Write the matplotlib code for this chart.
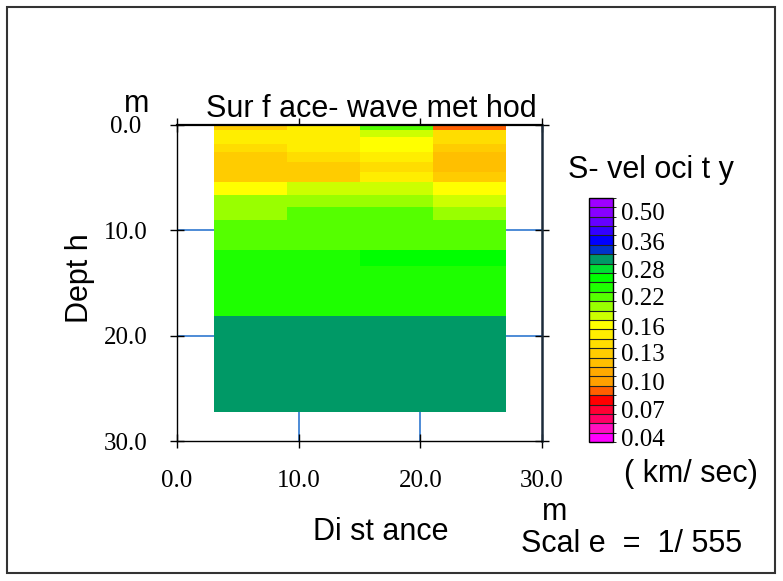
"""
plot.py
surface-wave S-velocity section with stepped colour scale
"""

import matplotlib
matplotlib.use("Agg")
import matplotlib.pyplot as plt
from matplotlib.colors import ListedColormap, BoundaryNorm
from matplotlib.cm import ScalarMappable
from matplotlib.patches import Rectangle
from matplotlib.ticker import FormatStrFormatter

W, H = 783, 581

# column edges along the line (m) and layer boundaries (m depth)
x_edges = [3, 9, 15, 21, 27]
depth_edges = [0, 0.5, 1.1, 1.8, 2.6, 3.5, 4.5, 5.4, 6.6, 7.8, 9.0, 11.9, 13.4, 18.1, 27.2]

# S-wave velocity (km/sec), one row per layer, one value per column
velocity = [
    [0.13, 0.15, 0.22, 0.09],
    [0.15, 0.15, 0.18, 0.14],
    [0.15, 0.15, 0.16, 0.14],
    [0.14, 0.15, 0.16, 0.13],
    [0.13, 0.14, 0.15, 0.12],
    [0.13, 0.13, 0.14, 0.12],
    [0.13, 0.13, 0.15, 0.13],
    [0.16, 0.18, 0.18, 0.16],
    [0.20, 0.20, 0.20, 0.18],
    [0.20, 0.22, 0.22, 0.20],
    [0.22, 0.22, 0.22, 0.22],
    [0.24, 0.24, 0.26, 0.26],
    [0.24, 0.24, 0.24, 0.24],
    [0.31, 0.31, 0.31, 0.31],
]

# colour scale, lowest box first
level_colors = ["#ff00ff", "#ff10c0", "#ff0066", "#ff0033", "#ff0000", "#ff6000",
                "#ffa000", "#ffaa00", "#ffbf00", "#ffcc00", "#ffdd00", "#ffee00",
                "#ffff00", "#ccff00", "#99ff00", "#55ff00", "#1eff00", "#00ff00",
                "#00e033", "#009966", "#0033cc", "#0000ff", "#3300ff", "#6600ff",
                "#8800ff", "#9f00ff"]
level_bounds = [0.035, 0.045, 0.055, 0.065, 0.075, 0.085, 0.095, 0.105, 0.115,
                0.125, 0.135, 0.145, 0.155, 0.17, 0.19, 0.21, 0.23, 0.25, 0.27,
                0.295, 0.32, 0.345, 0.385, 0.43, 0.475, 0.525, 0.575]
cbar_ticks = [0.04, 0.07, 0.10, 0.13, 0.16, 0.22, 0.28, 0.36, 0.50]
axis_ticks = [0, 10, 20, 30]

SANS = "Liberation Sans"
SERIF = "Liberation Serif"
plt.rcParams["font.family"] = SANS


def px(x, y):
    return x / W, 1 - y / H


fig = plt.figure(figsize=(W / 100, H / 100), dpi=100)
fig.patches.append(Rectangle(px(7.5, 573), 767.5 / W, 566 / H, transform=fig.transFigure,
                             fill=False, edgecolor="#333333", linewidth=1.5))

ax = fig.add_axes([177 / W, 1 - 441 / H, 365 / W, 316 / H])
cmap = ListedColormap(level_colors)
norm = BoundaryNorm(level_bounds, cmap.N)
ax.pcolormesh(x_edges, depth_edges, velocity, cmap=cmap, norm=norm)

ax.set_xlim(0, 30)
ax.set_ylim(30, 0)
ax.set_xticks(axis_ticks)
ax.set_yticks(axis_ticks)
ax.xaxis.set_major_formatter(FormatStrFormatter("%.1f"))
ax.yaxis.set_major_formatter(FormatStrFormatter("%.1f"))
ax.set_axisbelow(True)
ax.grid(True, color="#2f78d0", linewidth=1.2)
# grid only on the inner ticks, the frame covers 0 and 30
for axis in (ax.xaxis, ax.yaxis):
    ticks = axis.get_major_ticks()
    ticks[0].gridline.set_visible(False)
    ticks[-1].gridline.set_visible(False)
ax.tick_params(direction="inout", length=10, width=1, top=True, right=True,
               labelsize=18, labelfontfamily=SERIF)
ax.tick_params(axis="x", pad=16)
ax.tick_params(axis="y", pad=32)
plt.setp(ax.get_yticklabels(), ha="center")
for side, lw, col in [("left", 1, "black"), ("bottom", 1, "black"),
                      ("top", 1.6, "black"), ("right", 1.8, "#1c2b3a")]:
    ax.spines[side].set_linewidth(lw)
    ax.spines[side].set_color(col)

# stepped colour bar
cax = fig.add_axes([589 / W, 1 - 442.3 / H, 24 / W, 244.6 / H])
cb = fig.colorbar(ScalarMappable(norm=norm, cmap=cmap), cax=cax, ticks=cbar_ticks,
                  spacing="uniform", drawedges=True, format="%.2f")
cb.outline.set_linewidth(1)
cb.dividers.set_color("#222222")
cb.dividers.set_linewidth(0.8)
cax.tick_params(length=0, pad=6, labelsize=18, labelfontfamily=SERIF)

# labels
fs = 22
fig.text(*px(371, 117), "Sur f ace- wave met hod", fontsize=fs, ha="center", va="baseline")
fig.text(*px(137, 112), "m", fontsize=fs, ha="center", va="baseline")
fig.text(*px(80, 278), "Dept h", fontsize=fs, rotation=90, ha="center", va="center")
fig.text(*px(381, 540), "Di st ance", fontsize=fs, ha="center", va="baseline")
fig.text(*px(555, 520), "m", fontsize=fs, ha="center", va="baseline")
fig.text(*px(521, 552), "Scal e  =  1/ 555", fontsize=fs, ha="left", va="baseline")
fig.text(*px(568, 178), "S- vel oci t y", fontsize=fs, ha="left", va="baseline")
fig.text(*px(624, 482), "( km/ sec)", fontsize=fs, ha="left", va="baseline")

fig.savefig("out.png", dpi=100)
